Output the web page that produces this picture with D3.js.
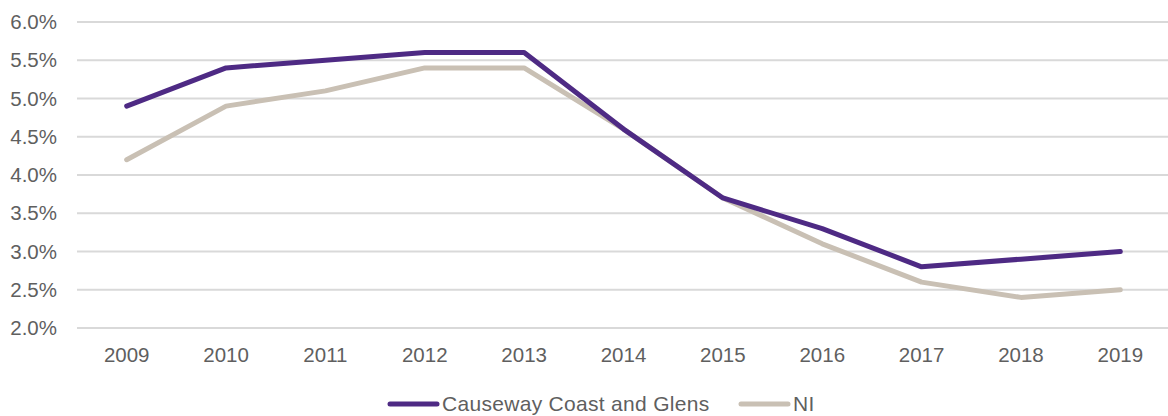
<!DOCTYPE html>
<html><head><meta charset="utf-8">
<script src="https://cdn.jsdelivr.net/npm/d3@7"></script>
<style>body{margin:0;background:#fff}svg{display:block}</style>
</head><body>
<script>
const years = ["2009","2010","2011","2012","2013","2014","2015","2016","2017","2018","2019"];
const ccg = [4.9,5.4,5.5,5.6,5.6,4.6,3.7,3.3,2.8,2.9,3.0];
const ni  = [4.2,4.9,5.1,5.4,5.4,4.6,3.7,3.1,2.6,2.4,2.5];
const yTicks = [2.0,2.5,3.0,3.5,4.0,4.5,5.0,5.5,6.0];
const seriesNames = ["Causeway Coast and Glens","NI"];
const colors = ["#4E2A84","#C9C0B4"];

const W=1168,H=416;
const svg=d3.select("body").append("svg").attr("width",W).attr("height",H);
const x=d3.scaleBand().domain(years).range([77,1170]);
const y=d3.scaleLinear().domain([2,6]).range([328,22]);
const font="'Liberation Sans', Arial, sans-serif";
const txt="#5f5f5f";

svg.append("g").selectAll("line").data(yTicks).join("line")
  .attr("x1",77).attr("x2",1168)
  .attr("y1",d=>y(d)).attr("y2",d=>y(d))
  .attr("stroke","#D9D9D9").attr("stroke-width",2);

svg.append("g").selectAll("text").data(yTicks).join("text")
  .attr("x",57).attr("y",d=>y(d)).attr("dy","0.35em")
  .attr("text-anchor","end").attr("font-family",font).attr("font-size",20.5).attr("fill",txt)
  .text(d=>d.toFixed(1)+"%");

svg.append("g").selectAll("text").data(years).join("text")
  .attr("x",d=>x(d)+x.bandwidth()/2).attr("y",355).attr("dy","0.35em")
  .attr("text-anchor","middle").attr("font-family",font).attr("font-size",20.5).attr("fill",txt)
  .text(d=>d);

const line=d3.line().x((d,i)=>x(years[i])+x.bandwidth()/2).y(d=>y(d));
[ni,ccg].forEach((s,k)=>{
  const c = s===ccg?colors[0]:colors[1];
  svg.append("path").datum(s).attr("d",line).attr("fill","none")
    .attr("stroke",c).attr("stroke-width",5).attr("stroke-linecap","round").attr("stroke-linejoin","round");
});

const leg=[{n:seriesNames[0],c:colors[0],x:390},{n:seriesNames[1],c:colors[1],x:741}];
leg.forEach(l=>{
  svg.append("line").attr("x1",l.x).attr("x2",l.x+47).attr("y1",404).attr("y2",404)
    .attr("stroke",l.c).attr("stroke-width",5).attr("stroke-linecap","round");
  svg.append("text").attr("x",l.x+52).attr("y",404).attr("dy","0.35em")
    .attr("font-family",font).attr("font-size",21).attr("letter-spacing",0.3).attr("fill",txt).text(l.n);
});
</script>
</body></html>
